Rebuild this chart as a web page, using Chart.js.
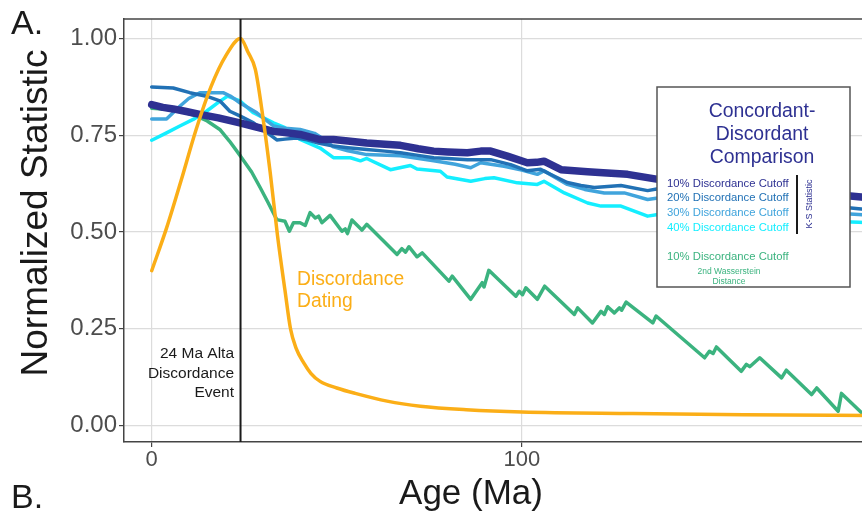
<!DOCTYPE html>
<html>
<head>
<meta charset="utf-8">
<script src="https://cdn.jsdelivr.net/npm/chart.js@4.4.1/dist/chart.umd.min.js"></script>
<style>
  html, body { margin: 0; padding: 0; background: #fff; overflow: hidden; }
  #wrap { width: 880px; height: 511px; }
</style>
</head>
<body>
<div id="wrap"><canvas id="chart" width="880" height="511"></canvas></div>
<script>
// Tick values
const xTicks = [0, 100];
const yTicks = [0, 0.25, 0.5, 0.75, 1];
const EVENT_AGE = 24;

// Discordance dating curve (orange)
const datingAge = [0, 4, 8, 12, 16, 20, 24, 26, 28, 30, 32, 34, 36, 37.5, 39, 41, 43, 45.5, 50, 55, 63.6, 72.6, 85, 100, 130, 160, 196];
const datingValue = [0.40, 0.51, 0.635, 0.765, 0.875, 0.955, 1.0, 0.965, 0.92, 0.80, 0.655, 0.49, 0.35, 0.25, 0.20, 0.163, 0.135, 0.114, 0.097, 0.083, 0.063, 0.05, 0.041, 0.035, 0.031, 0.028, 0.026];

// 2nd Wasserstein distance, 10% cutoff (green)
const wassAge = [0, 4, 8, 12, 15, 18.4, 21, 24, 27, 29.3, 31.5, 33.8, 36, 37.2, 38.3, 40.1, 41.5, 42.8, 44.2, 45.1, 46, 48.2, 51.4, 52.3, 52.9, 54.1, 56.8, 58.1, 66.3, 67.6, 68.6, 69.5, 71.7, 73.1, 80.3, 81.2, 86.2, 89.3, 89.8, 91.1, 98.4, 99.3, 100.2, 101.1, 104.2, 106.2, 114.2, 115.1, 119.1, 121.4, 122.3, 123.2, 125, 126.4, 127, 128.2, 135.4, 136.3, 149.4, 150.7, 151.7, 152.6, 159.3, 160.7, 161.6, 164.3, 170.2, 171.5, 178.3, 179.7, 185.5, 186.4, 192.4, 196];
const wassValue = [0.82, 0.817, 0.811, 0.80, 0.787, 0.765, 0.735, 0.696, 0.655, 0.615, 0.575, 0.532, 0.528, 0.502, 0.524, 0.524, 0.517, 0.55, 0.536, 0.541, 0.524, 0.543, 0.502, 0.508, 0.496, 0.531, 0.505, 0.52, 0.442, 0.457, 0.448, 0.462, 0.436, 0.446, 0.373, 0.386, 0.326, 0.369, 0.358, 0.401, 0.334, 0.347, 0.338, 0.356, 0.326, 0.36, 0.287, 0.304, 0.265, 0.295, 0.287, 0.307, 0.291, 0.304, 0.298, 0.319, 0.265, 0.283, 0.175, 0.192, 0.186, 0.203, 0.14, 0.158, 0.152, 0.175, 0.123, 0.143, 0.08, 0.097, 0.037, 0.083, 0.028, 0.0];

// K-S statistic, 10% cutoff (navy)
const k10Age = [0, 3, 5.8, 9, 13, 18, 23.8, 28, 32.9, 36, 40.1, 45.5, 49.1, 53, 58.1, 63, 67.2, 72, 76.2, 80, 85.3, 88.9, 91.6, 96.1, 101.5, 104, 106, 110.6, 117.8, 122, 128.6, 136.8, 145, 155, 165, 175, 183, 191, 196];
const k10Value = [0.829, 0.822, 0.818, 0.812, 0.804, 0.795, 0.782, 0.772, 0.76, 0.757, 0.752, 0.739, 0.739, 0.735, 0.73, 0.727, 0.724, 0.715, 0.709, 0.707, 0.705, 0.709, 0.709, 0.696, 0.679, 0.68, 0.683, 0.661, 0.656, 0.653, 0.649, 0.636, 0.63, 0.622, 0.613, 0.605, 0.598, 0.591, 0.587];

// K-S statistic, 20% cutoff
const k20Age = [0, 5.8, 10.3, 14.8, 18.4, 21.1, 23.8, 27.5, 31, 33.8, 36, 39.2, 42, 45, 49.1, 53, 58.1, 63, 67.2, 72, 76.2, 80, 85.3, 91.6, 97, 101.5, 105.1, 108, 112.3, 116, 119.6, 126.8, 134, 136.8, 145, 155, 165, 175, 183, 191, 196];
const k20Value = [0.875, 0.872, 0.86, 0.851, 0.839, 0.812, 0.80, 0.782, 0.758, 0.738, 0.74, 0.743, 0.738, 0.73, 0.722, 0.718, 0.713, 0.709, 0.705, 0.698, 0.692, 0.69, 0.687, 0.687, 0.674, 0.658, 0.662, 0.648, 0.628, 0.62, 0.615, 0.62, 0.607, 0.612, 0.603, 0.592, 0.583, 0.575, 0.568, 0.56, 0.556];

// K-S statistic, 30% cutoff
const k30Age = [0, 4, 7.6, 10, 13, 19.3, 21.5, 23.8, 28.4, 32.9, 36, 40.1, 44, 46.5, 49.1, 53, 58.1, 67.2, 76.2, 82, 86.2, 88.9, 95.2, 100, 104.2, 106, 112.3, 117, 122.3, 127.7, 134, 136.8, 145, 155, 165, 175, 183, 191, 196];
const k30Value = [0.792, 0.792, 0.825, 0.845, 0.86, 0.86, 0.85, 0.834, 0.808, 0.774, 0.768, 0.765, 0.755, 0.74, 0.72, 0.71, 0.70, 0.697, 0.684, 0.675, 0.666, 0.679, 0.67, 0.66, 0.649, 0.658, 0.623, 0.61, 0.601, 0.601, 0.584, 0.588, 0.58, 0.571, 0.563, 0.556, 0.55, 0.545, 0.542];

// K-S statistic, 40% cutoff (cyan)
const k40Age = [0, 4, 7.6, 11.2, 14.8, 18, 20.5, 23.8, 27.5, 32.9, 36, 40.1, 45.5, 49.1, 53.7, 56.4, 58.1, 64.5, 69.9, 71.7, 78, 79.8, 86.2, 90, 92.5, 98.8, 104.2, 106, 111.5, 117.8, 121.4, 126.8, 134, 136.8, 145, 155, 165, 175, 183, 191, 196];
const k40Value = [0.737, 0.756, 0.774, 0.791, 0.812, 0.835, 0.851, 0.839, 0.808, 0.782, 0.77, 0.739, 0.717, 0.692, 0.692, 0.684, 0.69, 0.661, 0.672, 0.663, 0.657, 0.642, 0.631, 0.638, 0.64, 0.627, 0.623, 0.631, 0.601, 0.575, 0.567, 0.567, 0.541, 0.545, 0.54, 0.535, 0.532, 0.53, 0.528, 0.525, 0.523];

// Text
const legendTitle = ['Concordant-', 'Discordant', 'Comparison'];
const ksLabels = ['10% Discordance Cutoff', '20% Discordance Cutoff', '30% Discordance Cutoff', '40% Discordance Cutoff'];
const wassLabel = '10% Discordance Cutoff';
const wassSubLabel = ['2nd Wasserstein', 'Distance'];
const eventLabel = ['24 Ma Alta', 'Discordance', 'Event'];
const datingLabel = ['Discordance', 'Dating'];

const FONT = '"Liberation Sans", Arial, Helvetica, sans-serif';
const NAVY = '#2E3192';
const K20 = '#2171B5';
const K30 = '#40A4DC';
const K40 = '#14EEFF';
const GREEN = '#3BB37F';
const ORANGE = '#FBAE17';

function toPoints(ages, values) {
    return ages.map((a, i) => ({ x: a, y: values[i] }));
}

const annotate = {
    id: 'annotate',
    afterDatasetsDraw(chart) {
        const { ctx, chartArea: a, scales: { x } } = chart;
        ctx.save();

        // panel top border
        ctx.strokeStyle = '#444';
        ctx.lineWidth = 1.5;
        ctx.beginPath();
        ctx.moveTo(a.left, a.top);
        ctx.lineTo(a.right, a.top);
        ctx.stroke();

        // event line
        const ex = x.getPixelForValue(EVENT_AGE);
        ctx.strokeStyle = '#1a1a1a';
        ctx.lineWidth = 2;
        ctx.beginPath();
        ctx.moveTo(ex, a.top);
        ctx.lineTo(ex, a.bottom);
        ctx.stroke();

        ctx.textBaseline = 'alphabetic';
        ctx.font = '15.5px ' + FONT;
        ctx.fillStyle = '#1a1a1a';
        ctx.textAlign = 'right';
        eventLabel.forEach((t, i) => ctx.fillText(t, ex - 6.5, 358 + i * 19.5));

        ctx.font = '19.3px ' + FONT;
        ctx.fillStyle = ORANGE;
        ctx.textAlign = 'left';
        datingLabel.forEach((t, i) => ctx.fillText(t, 297, 285 + i * 22));

        // legend box
        ctx.fillStyle = '#fff';
        ctx.fillRect(657, 87, 193, 200);
        ctx.strokeStyle = '#555';
        ctx.lineWidth = 1.5;
        ctx.strokeRect(657, 87, 193, 200);

        ctx.font = '19.4px ' + FONT;
        ctx.fillStyle = NAVY;
        ctx.textAlign = 'center';
        legendTitle.forEach((t, i) => ctx.fillText(t, 762, 116.7 + i * 23.3));

        const ksColors = [NAVY, K20, K30, K40];
        ctx.font = '11.3px ' + FONT;
        ctx.textAlign = 'left';
        ksLabels.forEach((t, i) => {
            ctx.fillStyle = ksColors[i];
            ctx.fillText(t, 667, 186.5 + i * 14.7);
        });

        ctx.strokeStyle = '#1a1a1a';
        ctx.lineWidth = 2;
        ctx.beginPath();
        ctx.moveTo(797, 175);
        ctx.lineTo(797, 234);
        ctx.stroke();

        ctx.save();
        ctx.translate(810, 204);
        ctx.rotate(-Math.PI / 2);
        ctx.font = '9px ' + FONT;
        ctx.fillStyle = NAVY;
        ctx.textAlign = 'center';
        ctx.textBaseline = 'middle';
        ctx.fillText('K-S Statistic', 0, 0);
        ctx.restore();

        ctx.fillStyle = GREEN;
        ctx.font = '11.3px ' + FONT;
        ctx.fillText(wassLabel, 667, 260);
        ctx.font = '8.5px ' + FONT;
        ctx.textAlign = 'center';
        wassSubLabel.forEach((t, i) => ctx.fillText(t, 729, 274 + i * 10));

        ctx.restore();
    },
    afterDraw(chart) {
        const { ctx } = chart;
        ctx.save();
        ctx.fillStyle = '#1a1a1a';
        ctx.textBaseline = 'alphabetic';
        ctx.font = '34px ' + FONT;
        ctx.textAlign = 'left';
        ctx.fillText('A.', 11, 34);
        ctx.fillText('B.', 11, 508);

        ctx.font = '35px ' + FONT;
        ctx.textAlign = 'center';
        ctx.fillText('Age (Ma)', 471, 504);

        ctx.translate(47, 213);
        ctx.rotate(-Math.PI / 2);
        ctx.font = '37px ' + FONT;
        ctx.fillText('Normalized Statistic', 0, 0);
        ctx.restore();
    }
};

const ctx = document.getElementById('chart').getContext('2d');
new Chart(ctx, {
    type: 'line',
    data: {
        datasets: [
            { label: 'Discordance Dating', data: toPoints(datingAge, datingValue), borderColor: ORANGE, borderWidth: 3.5, cubicInterpolationMode: 'monotone' },
            { label: '10% K-S', data: toPoints(k10Age, k10Value), borderColor: NAVY, borderWidth: 7.5 },
            { label: '20% K-S', data: toPoints(k20Age, k20Value), borderColor: K20, borderWidth: 3.5 },
            { label: '30% K-S', data: toPoints(k30Age, k30Value), borderColor: K30, borderWidth: 3.5 },
            { label: '40% K-S', data: toPoints(k40Age, k40Value), borderColor: K40, borderWidth: 3.5 },
            { label: '10% Wasserstein', data: toPoints(wassAge, wassValue), borderColor: GREEN, borderWidth: 3.5 }
        ]
    },
    options: {
        responsive: false,
        animation: false,
        devicePixelRatio: 1,
        layout: { padding: { top: 19, right: 10, left: 0, bottom: 0 } },
        elements: {
            point: { radius: 0, hoverRadius: 0 },
            line: { tension: 0, fill: false, borderCapStyle: 'round', borderJoinStyle: 'round' }
        },
        plugins: { legend: { display: false }, tooltip: { enabled: false } },
        scales: {
            x: {
                type: 'linear',
                min: -7.49,
                max: 194.1,
                afterBuildTicks: s => { s.ticks = xTicks.map(v => ({ value: v })); },
                afterFit: s => { s.height = 69; },
                ticks: { font: { size: 22, family: FONT }, color: '#4D4D4D', padding: 0, maxRotation: 0, callback: v => String(v) },
                grid: { color: '#DCDCDC', lineWidth: 1.2, tickLength: 5, tickColor: '#444' },
                border: { color: '#444', width: 1.5 }
            },
            y: {
                type: 'linear',
                min: -0.0426,
                max: 1.0504,
                afterBuildTicks: s => { s.ticks = yTicks.map(v => ({ value: v })); },
                afterFit: s => { s.width = 124; },
                ticks: { font: { size: 24, family: FONT }, color: '#4D4D4D', padding: 2, callback: v => v.toFixed(2) },
                grid: { color: '#DCDCDC', lineWidth: 1.2, tickLength: 5, tickColor: '#444' },
                border: { color: '#444', width: 1.5 }
            }
        }
    },
    plugins: [annotate]
});
</script>
</body>
</html>
